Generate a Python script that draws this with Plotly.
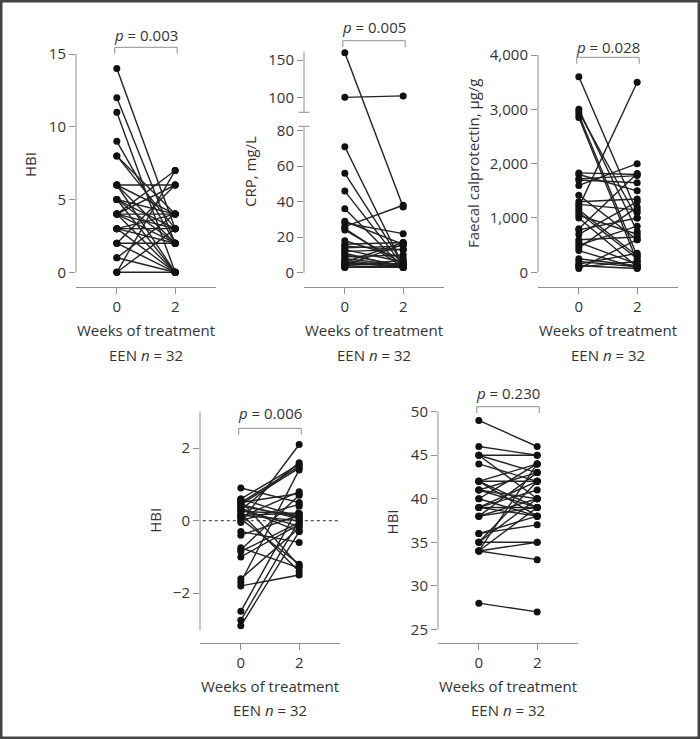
import plotly.graph_objects as go

W, H = 700, 739

# ---- data: (week 0, week 2) pairs per panel ----
hbi_w0 = [14, 12, 11, 9, 8, 8, 6, 6, 6, 6, 5, 5, 5, 5, 4, 4, 4, 4, 4, 4, 3, 3, 3, 3, 2, 2, 2, 1, 1, 0, 0, 0]
hbi_w2 = [3, 2, 0, 2, 4, 3, 6, 0, 2, 4, 3, 0, 2, 4, 4, 7, 2, 0, 3, 6, 3, 0, 2, 4, 2, 6, 0, 0, 4, 0, 7, 3]

crp_w0 = [160, 100, 71, 56, 46, 36, 29, 28, 26, 25, 24, 18, 16, 15, 14, 13, 12, 11, 10, 9, 8, 7, 6, 6, 5, 5, 4, 4, 3, 3, 3, 4]
crp_w2 = [37, 102, 4, 5, 4, 3, 16, 22, 38, 3, 5, 8, 17, 13, 15, 6, 13, 3, 4, 10, 4, 3, 17, 3, 5, 4, 3, 7, 3, 4, 3, 16]

fc_w0 = [3600, 3000, 2950, 2900, 2850, 1830, 1800, 1720, 1700, 1600, 1420, 1300, 1250, 1200, 1150, 1100,
         1050, 1000, 800, 780, 700, 600, 550, 500, 450, 400, 250, 200, 150, 120, 100, 70]
fc_w2 = [1100, 750, 1000, 300, 200, 1800, 1500, 1780, 1650, 2000, 600, 1350, 1150, 3500, 300, 250,
         700, 100, 1820, 1000, 1300, 650, 150, 850, 1200, 80, 120, 100, 350, 70, 200, 600]

z_w0 = [0.9, 0.6, 0.55, 0.5, 0.45, 0.4, 0.35, 0.3, 0.25, 0.2, 0.15, 0.1, 0.05, 0.0, -0.05, -0.3,
        -0.4, -0.75, -0.8, -1.0, -1.6, -1.7, -1.8, -2.5, -2.75, -2.9, 0.5, 0.3, 0.15, -0.85, 0.45, 0.6]
z_w2 = [0.5, 1.55, -1.25, 0.75, 1.45, 0.1, -0.3, 1.6, 0.2, -1.4, 0.0, 0.8, -1.2, 0.45, 2.1, -0.6,
        0.15, -1.3, 0.7, -0.1, -0.2, 1.4, -1.5, 0.4, 0.0, -0.3, 1.5, -0.15, 0.2, -0.05, 0.05, 0.1]

bmi_w0 = [49, 46, 45, 45, 44, 42, 42, 42, 42, 41, 41, 41, 40, 40, 39, 39, 39, 38, 38, 38, 36, 36,
          35, 35, 35, 34, 34, 34, 34, 28, 45, 39]
bmi_w2 = [46, 45, 45, 43, 42, 44, 42, 39, 38, 43, 40, 39, 44, 38, 42, 41, 39, 40, 43, 39, 38, 37,
          35, 40, 42, 33, 39, 44, 35, 27, 40, 38]

weeks = [0, 2]
p_values = ["0.003", "0.005", "0.028", "0.006", "0.230"]
n_label = "EEN <i>n</i> = 32"

LINE = "#222222"
AXIS = "#8f8f8f"
TEXT = "#333333"
FONT = "Open Sans, Segoe UI, sans-serif"
FS = 15


def crp_upper(v):
    # compressed scale used above the axis break
    return 98.8 + 0.42 * (v - 100)


def crp_pos(v):
    return v if v <= 85 else crp_upper(v)


def ident(v):
    return v


def px_x(p):
    return p / W


def px_y(p):
    return 1 - p / H


# spines are given in plotted (display) units
panels = [
    dict(w0=hbi_w0, w2=hbi_w2, f=ident, xd=(76, 216), yd=(20, 287), yr=[-1.01, 17.34],
         tv=[0, 5, 10, 15], spine=[(0, 15)], title="HBI", tpos=(30, 165),
         ptext=35, pbr=47.3),
    dict(w0=crp_w0, w2=crp_w2, f=crp_pos, xd=(304, 444), yd=(20, 287), yr=[-8.06, 142.4],
         tv=[0, 20, 40, 60, 80, 100, 150], spine=[(0, 82.5), (crp_upper(80), crp_upper(161))],
         title="CRP, mg/L", tpos=(250, 172), ptext=26.7, pbr=40.7),
    dict(w0=fc_w0, w2=fc_w2, f=ident, xd=(538, 678), yd=(20, 287), yr=[-270.6, 4645],
         tv=[0, 1000, 2000, 3000, 4000], spine=[(0, 4000)],
         title="Faecal calprotectin, µg/g", tpos=(473, 164), ptext=46.7, pbr=57.3),
    dict(w0=z_w0, w2=z_w2, f=ident, xd=(200, 340), yd=(380, 642.7), yr=[-3.366, 3.88],
         tv=[-2, 0, 2], spine=[(-3.03, 3.0)], title="HBI", tpos=(155, 520.7),
         ptext=413.3, pbr=428.3),
    dict(w0=bmi_w0, w2=bmi_w2, f=ident, xd=(438, 578), yd=(380, 642.7), yr=[23.46, 53.64],
         tv=[25, 30, 35, 40, 45, 50], spine=[(25, 50)], title="HBI", tpos=(391.7, 521.7),
         ptext=393.3, pbr=406.7),
]

fig = go.Figure()
shapes = []
annotations = []

for i, pn in enumerate(panels, start=1):
    suffix = "" if i == 1 else str(i)
    xa, ya = f"x{suffix}", f"y{suffix}"
    f = pn["f"]
    lx, ly = [], []
    for a, b in zip(pn["w0"], pn["w2"]):
        lx += [weeks[0], weeks[1], None]
        ly += [f(a), f(b), None]
    fig.add_trace(go.Scatter(x=lx, y=ly, mode="lines", line=dict(color=LINE, width=1.4),
                             xaxis=xa, yaxis=ya, hoverinfo="skip", showlegend=False))
    mx = [weeks[0]] * len(pn["w0"]) + [weeks[1]] * len(pn["w2"])
    my = [f(v) for v in pn["w0"]] + [f(v) for v in pn["w2"]]
    fig.add_trace(go.Scatter(x=mx, y=my, mode="markers", marker=dict(color="#111111", size=7),
                             xaxis=xa, yaxis=ya, showlegend=False))

    x0, x1 = pn["xd"]
    top, bottom = pn["yd"]
    ticktext = [f"{t:,}".replace("-", "\u2212") for t in pn["tv"]]
    fig.update_layout(**{
        f"xaxis{suffix}": dict(domain=[px_x(x0), px_x(x1)], anchor=ya, range=[-1.4, 3.4],
                               tickvals=weeks, ticks="outside", ticklen=6, tickcolor=AXIS,
                               showline=True, linecolor=AXIS, linewidth=1, showgrid=False,
                               zeroline=False, tickfont=dict(size=FS, color=TEXT), fixedrange=True),
        f"yaxis{suffix}": dict(domain=[px_y(bottom), px_y(top)], anchor=xa, range=pn["yr"],
                               tickvals=[f(t) for t in pn["tv"]], ticktext=ticktext,
                               ticks="outside", ticklen=6, tickcolor=AXIS, showline=False,
                               showgrid=False, zeroline=False, tickfont=dict(size=FS, color=TEXT),
                               fixedrange=True),
    })

    # offset y spine(s)
    for lo, hi in pn["spine"]:
        shapes.append(dict(type="line", xref=f"{xa} domain", yref=ya, x0=0, x1=0,
                           y0=lo, y1=hi, line=dict(color=AXIS, width=1)))
    if i == 2:
        # end caps at the axis break
        for yv in (pn["spine"][0][1], pn["spine"][1][0]):
            shapes.append(dict(type="line", xref=f"{xa} domain", yref=ya, x0=-5.5 / 140, x1=5.5 / 140,
                               y0=yv, y1=yv, line=dict(color=AXIS, width=1)))
    if i == 4:
        shapes.append(dict(type="line", xref=f"{xa} domain", yref=ya, x0=0.02, x1=1, y0=0, y1=0,
                           layer="below", line=dict(color="#555555", width=1.2, dash="dot")))

    # significance bracket
    yb, y_end = px_y(pn["pbr"]), px_y(pn["pbr"] + 6.5)
    shapes.append(dict(type="path", xref=xa, yref="paper",
                       path=f"M -0.07,{y_end} L -0.07,{yb} L 2.07,{yb} L 2.07,{y_end}",
                       line=dict(color=AXIS, width=1)))
    annotations.append(dict(xref=xa, yref="paper", x=1, y=px_y(pn["ptext"]), showarrow=False,
                            text=f"<i>p</i> = {p_values[i - 1]}", font=dict(size=FS, color=TEXT),
                            xanchor="center", yanchor="middle"))
    # axis titles
    annotations.append(dict(xref="paper", yref="paper", x=px_x(pn["tpos"][0]), y=px_y(pn["tpos"][1]),
                            text=pn["title"], textangle=-90, showarrow=False,
                            font=dict(size=FS, color=TEXT), xanchor="center", yanchor="middle"))
    cx = px_x((x0 + x1) / 2)
    annotations.append(dict(xref="paper", yref="paper", x=cx, y=px_y(bottom + 43), showarrow=False,
                            text="Weeks of treatment", font=dict(size=FS, color=TEXT),
                            xanchor="center", yanchor="middle"))
    annotations.append(dict(xref="paper", yref="paper", x=cx, y=px_y(bottom + 67.5), showarrow=False,
                            text=n_label, font=dict(size=FS, color=TEXT),
                            xanchor="center", yanchor="middle"))

# outer frame
shapes.append(dict(type="rect", xref="paper", yref="paper", x0=0, x1=1, y0=0, y1=1,
                   line=dict(color="#444444", width=5)))

fig.update_layout(
    width=W, height=H,
    margin=dict(l=0, r=0, t=0, b=0),
    paper_bgcolor="white", plot_bgcolor="white",
    font=dict(family=FONT, size=FS, color=TEXT),
    shapes=shapes, annotations=annotations,
    showlegend=False,
)

fig.write_html("out.html", config={"displayModeBar": False},
               post_script="document.body.style.margin='0';document.body.style.overflow='hidden';")
